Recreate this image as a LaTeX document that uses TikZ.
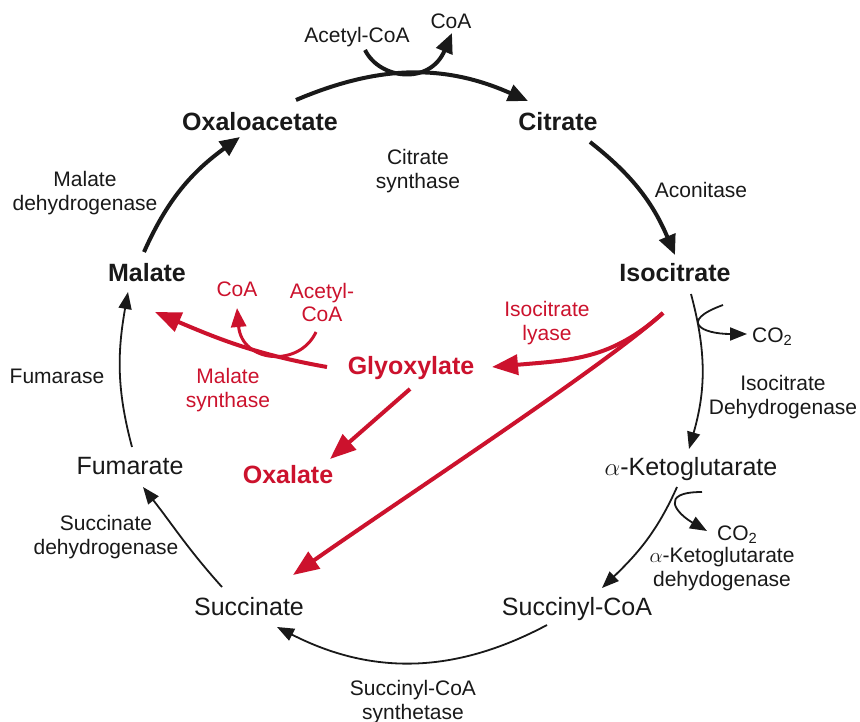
\documentclass[tikz,border=0pt]{standalone}
\usepackage{fontspec}
\setmainfont{Liberation Sans}
\usepackage{tikz}
\usetikzlibrary{arrows.meta}
\definecolor{gxred}{RGB}{204,18,45}
\definecolor{ink}{RGB}{25,25,25}

\begin{document}
\begin{tikzpicture}[x=1pt,y=1pt,
    every node/.style={inner sep=0pt,anchor=base,text=ink},
    nm/.style={font=\fontsize{25}{30}\selectfont},
    nb/.style={font=\fontsize{25}{30}\selectfont\bfseries},
    lb/.style={font=\fontsize{21}{24}\selectfont,align=center},
    rd/.style={text=gxred},
    tk/.style={draw=ink,line width=4pt,-{Triangle[length=20pt,width=17pt]}},
    tn/.style={draw=ink,line width=1.8pt,-{Triangle[length=17pt,width=13pt]}},
    rk/.style={draw=gxred,line width=4pt,-{Triangle[length=26pt,width=20pt]}},
    rn/.style={draw=gxred,line width=3pt,-{Triangle[length=19pt,width=15pt]}}]
  \useasboundingbox[fill=white] (0,0) rectangle (860,-722);
  \node[nb] (oaa) at (260,-131) {Oxaloacetate};
  \node[nb] (cit) at (558,-131) {Citrate};
  \node[nb] (iso) at (675,-282) {Isocitrate};
  \node[nm] (akg) at (691,-475) {$\alpha$-Ketoglutarate};
  \node[nm] (sca) at (577,-615) {Succinyl-CoA};
  \node[nm] (suc) at (249,-615) {Succinate};
  \node[nm] (fum) at (130,-474) {Fumarate};
  \node[nb] (mal) at (147,-282) {Malate};
  \node[nb,rd] (gly) at (411,-374) {Glyoxylate};
  \node[nb,rd] (oxa) at (288,-483) {Oxalate};
  \node[lb] (accoa) at (357,-43) {Acetyl-CoA};
  \node[lb] (coa) at (451,-29) {CoA};
  \node[lb] (cs) at (418,-189) {Citrate\\synthase};
  \node[lb] (aco) at (701,-198) {Aconitase};
  \node[lb] (idh) at (783,-414) {Isocitrate\\Dehydrogenase};
  \node[lb,anchor=base west] (co2a) at (752,-342) {CO\textsubscript{2}};
  \node[lb,anchor=base west] (co2b) at (717,-540) {CO\textsubscript{2}};
  \node[lb] (kgdh) at (722,-586) {$\alpha$-Ketoglutarate\\dehydogenase};
  \node[lb] (scs) at (413,-719) {Succinyl-CoA\\synthetase};
  \node[lb] (sdh) at (106,-554) {Succinate\\dehydrogenase};
  \node[lb] (fumase) at (57,-383) {Fumarase};
  \node[lb] (mdh) at (85,-211) {Malate\\dehydrogenase};
  \node[lb,rd] (rcoa) at (237,-297) {CoA};
  \node[lb,rd] (raccoa) at (322,-322) {Acetyl-\\CoA};
  \node[lb,rd] (ms) at (228,-407) {Malate\\synthase};
  \node[lb,rd] (icl) at (547,-340) {Isocitrate\\lyase};
  \draw[tk] ([shift={(-3,30)}]mal.base) to[out=66,in=216] ([shift={(-20,-6)}]oaa.base);
  \draw[tk] ([shift={(36,31)}]oaa.base) to[out=23,in=156] ([shift={(-30,30)}]cit.base);
  \draw[tk] ([shift={(32,-11)}]cit.base) to[out=-38,in=113] ([shift={(0,27)}]iso.base);
  \draw[tn] ([shift={(16,-12)}]iso.base) to[out=-75,in=74] ([shift={(-2,26)}]akg.base);
  \draw[tn] ([shift={(-14,-12)}]akg.base) to[out=246,in=44] ([shift={(25,27)}]sca.base);
  \draw[tn] ([shift={(-30,-10)}]sca.base) to[out=208,in=-27] ([shift={(28,-12)}]suc.base);
  \draw[tn] ([shift={(-27,28)}]suc.base) to[out=132,in=-52] ([shift={(13,-13)}]fum.base);
  \draw[tn] ([shift={(2,27)}]fum.base) to[out=105,in=-100] ([shift={(-19,-10)}]mal.base);
  \draw[tk] ([shift={(8,-7)}]accoa.base) .. controls +(15,-30) and +(-22,-52) .. ([shift={(1,-4)}]coa.base);
  \draw[tn] ([shift={(48,-23)}]iso.base) .. controls +(200:48) and +(-45,0) .. ([shift={(-5,8)}]co2a.base west);
  \draw[tn] ([shift={(11,-17)}]akg.base) .. controls +(-44,0) and +(150:35) .. ([shift={(-10,9)}]co2b.base west);
  \draw[rk] ([shift={(-84,7)}]gly.base) to[out=170,in=-23] ([shift={(8,-30)}]mal.base);
  \draw[rn] ([shift={(-6,-10)}]raccoa.base) .. controls +(245:40) and +(-85:55) .. ([shift={(0,-11)}]rcoa.base);
  \draw[rk] ([shift={(-12,-31)}]iso.base) .. controls +(222:70) and +(5:80) .. ([shift={(81,7)}]gly.base);
  \draw[rk] ([shift={(-12,-31)}]iso.base) .. controls +(222:80) and +(35:140) .. ([shift={(44,40)}]suc.base);
  \draw[rk] ([shift={(-1,-15)}]gly.base) -- ([shift={(42,24)}]oxa.base);
\end{tikzpicture}
\end{document}
